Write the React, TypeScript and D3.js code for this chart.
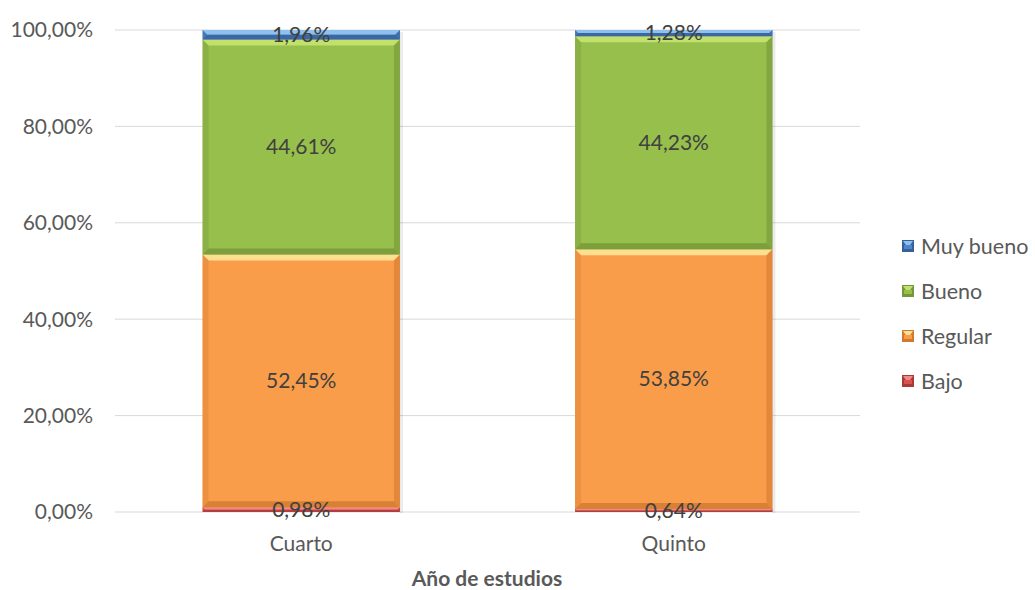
import { useEffect, useRef } from 'react';
import * as d3 from 'd3';

const categories = ['Cuarto', 'Quinto'];
const seriesNames = ['Bajo', 'Regular', 'Bueno', 'Muy bueno'];
const bajo = [0.98, 0.64];
const regular = [52.45, 53.85];
const bueno = [44.61, 44.23];
const muyBueno = [1.96, 1.28];
const yTicks = [0, 20, 40, 60, 80, 100];

const colors: Record<string, { base: string; light: string; dark: string }> = {
  Bajo: { base: '#d9534f', light: '#ef8a86', dark: '#a83b38' },
  Regular: { base: '#f99d4a', light: '#fde08f', dark: '#d07a30' },
  Bueno: { base: '#97bf4c', light: '#c2e06c', dark: '#76963a' },
  'Muy bueno': { base: '#4f86c9', light: '#8fc1ee', dark: '#36609a' },
};

const fmt = (v: number) => v.toFixed(2).replace('.', ',') + '%';

export default function App() {
  const svgRef = useRef<SVGSVGElement>(null);

  useEffect(() => {
    if (!svgRef.current) return;
    const svg = d3.select(svgRef.current);
    svg.selectAll('*').remove();
    const font = 'Lato, "Open Sans", sans-serif';

    const x = d3.scaleBand().domain(categories).range([115, 860]);
    const y = d3.scaleLinear().domain([0, 100]).range([512, 30]);
    const barW = x.bandwidth() * 0.53;

    // grid
    svg.append('g')
      .selectAll('line')
      .data(yTicks)
      .join('line')
      .attr('x1', 115)
      .attr('x2', 860)
      .attr('y1', (d) => y(d))
      .attr('y2', (d) => y(d))
      .attr('stroke', '#d9d9d9')
      .attr('stroke-width', 1);

    svg.append('g')
      .selectAll('text')
      .data(yTicks)
      .join('text')
      .attr('x', 93)
      .attr('y', (d) => y(d))
      .attr('dy', '0.35em')
      .attr('text-anchor', 'end')
      .attr('font-family', font)
      .attr('font-size', 21)
      .attr('fill', '#595959')
      .text((d) => fmt(d));

    const rows = categories.map((c, i) => ({
      cat: c,
      Bajo: bajo[i],
      Regular: regular[i],
      Bueno: bueno[i],
      'Muy bueno': muyBueno[i],
    }));
    const stacked = d3.stack<any>().keys(seriesNames)(rows);

    const bevel = 6;
    const gBars = svg.append('g');
    stacked.forEach((s) => {
      const c = colors[s.key];
      s.forEach((d) => {
        const x0 = (x(d.data.cat) as number) + (x.bandwidth() - barW) / 2;
        const x1 = x0 + barW;
        const yTop = y(d[1]);
        const yBot = y(d[0]);
        const h = yBot - yTop;
        const b = Math.min(bevel, h / 2);
        const g = gBars.append('g');
        g.append('rect')
          .attr('x', x0)
          .attr('y', yTop)
          .attr('width', barW)
          .attr('height', h)
          .attr('fill', c.base);
        // top bevel
        g.append('polygon')
          .attr('points', `${x0},${yTop} ${x1},${yTop} ${x1 - b},${yTop + b} ${x0 + b},${yTop + b}`)
          .attr('fill', c.light);
        // bottom bevel
        g.append('polygon')
          .attr('points', `${x0},${yBot} ${x1},${yBot} ${x1 - b},${yBot - b} ${x0 + b},${yBot - b}`)
          .attr('fill', c.dark)
          .attr('opacity', 0.8);
        // left bevel
        g.append('polygon')
          .attr('points', `${x0},${yTop} ${x0 + b},${yTop + b} ${x0 + b},${yBot - b} ${x0},${yBot}`)
          .attr('fill', c.dark)
          .attr('opacity', 0.35);
        // right bevel
        g.append('polygon')
          .attr('points', `${x1},${yTop} ${x1 - b},${yTop + b} ${x1 - b},${yBot - b} ${x1},${yBot}`)
          .attr('fill', c.dark)
          .attr('opacity', 0.6);
      });
    });

    // soft shadow on the right edge
    categories.forEach((cat) => {
      const x0 = (x(cat) as number) + (x.bandwidth() - barW) / 2;
      svg.append('rect')
        .attr('x', x0 + barW)
        .attr('y', y(100) + 2)
        .attr('width', 3)
        .attr('height', y(0) - y(100) - 1)
        .attr('fill', '#000')
        .attr('opacity', 0.08);
    });

    // data labels
    const gLabels = svg.append('g');
    stacked.forEach((s) => {
      s.forEach((d) => {
        const cx = (x(d.data.cat) as number) + x.bandwidth() / 2;
        const cy = (y(d[0]) + y(d[1])) / 2;
        gLabels.append('text')
          .attr('x', cx)
          .attr('y', cy)
          .attr('dy', '0.35em')
          .attr('text-anchor', 'middle')
          .attr('font-family', font)
          .attr('font-size', 21)
          .attr('fill', '#404040')
          .text(fmt(d[1] - d[0]));
      });
    });

    // category labels
    svg.append('g')
      .selectAll('text')
      .data(categories)
      .join('text')
      .attr('x', (d) => (x(d) as number) + x.bandwidth() / 2)
      .attr('y', 544)
      .attr('dy', '0.35em')
      .attr('text-anchor', 'middle')
      .attr('font-family', font)
      .attr('font-size', 21)
      .attr('fill', '#595959')
      .text((d) => d);

    svg.append('text')
      .attr('x', 487)
      .attr('y', 579)
      .attr('dy', '0.35em')
      .attr('text-anchor', 'middle')
      .attr('font-family', font)
      .attr('font-size', 21)
      .attr('font-weight', 'bold')
      .attr('fill', '#595959')
      .text('Año de estudios');

    // legend
    const legendItems = [...seriesNames].reverse();
    const lg = svg.append('g');
    legendItems.forEach((name, i) => {
      const c = colors[name];
      const cy = 246 + i * 45;
      const lx = 902;
      const s = 12;
      lg.append('rect').attr('x', lx).attr('y', cy - s / 2).attr('width', s).attr('height', s).attr('fill', c.dark);
      lg.append('polygon')
        .attr('points', `${lx + 1},${cy - s / 2 + 1} ${lx + s - 1},${cy - s / 2 + 1} ${lx + s / 2},${cy + 2}`)
        .attr('fill', c.light);
      lg.append('rect').attr('x', lx + 2).attr('y', cy - 1).attr('width', s - 4).attr('height', 4).attr('fill', c.base);
      lg.append('text')
        .attr('x', lx + 19)
        .attr('y', cy)
        .attr('dy', '0.35em')
        .attr('font-family', font)
        .attr('font-size', 21.5)
        .attr('fill', '#595959')
        .text(name);
    });
  }, []);

  return (
    <div style={{ position: 'fixed', left: 0, top: 0, width: 1035, height: 590, overflow: 'hidden', background: '#fff' }}>
      <svg ref={svgRef} width={1035} height={590} style={{ display: 'block' }} />
    </div>
  );
}
